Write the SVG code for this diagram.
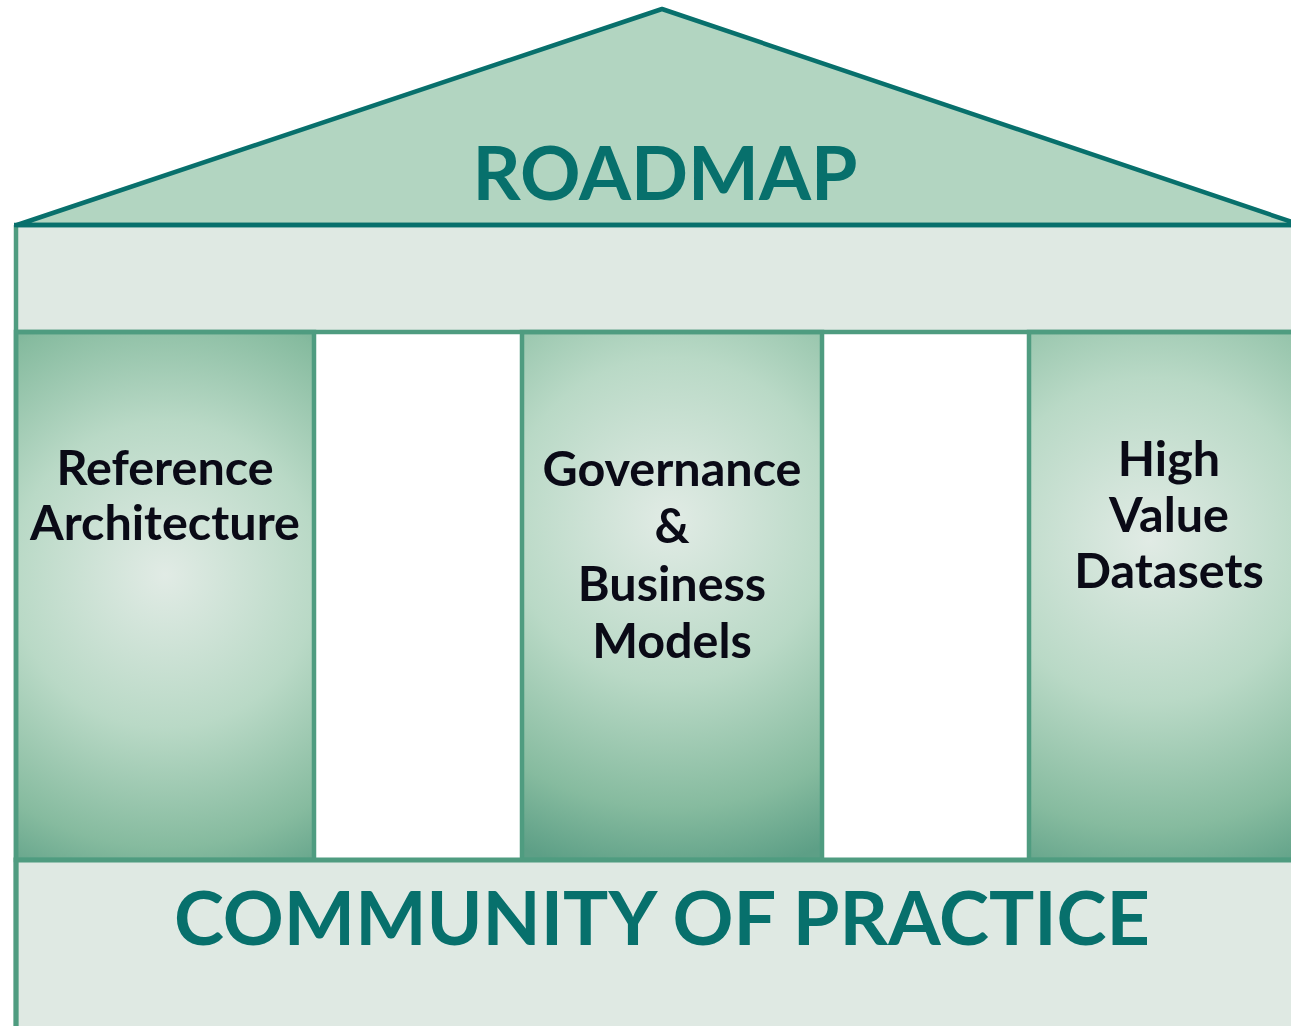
<svg xmlns="http://www.w3.org/2000/svg" width="1291" height="1026" viewBox="0 0 1291 1026">
<defs>
<radialGradient id="gL" gradientUnits="userSpaceOnUse" cx="165" cy="575" r="340">
<stop offset="0" stop-color="#e1ebe5"/><stop offset="0.45" stop-color="#b9d9c6"/><stop offset="0.8" stop-color="#86bb9f"/><stop offset="1" stop-color="#5d9f86"/>
</radialGradient>
<radialGradient id="gM" gradientUnits="userSpaceOnUse" cx="670" cy="520" r="360">
<stop offset="0" stop-color="#e1ebe5"/><stop offset="0.45" stop-color="#b9d9c6"/><stop offset="0.8" stop-color="#86bb9f"/><stop offset="1" stop-color="#5d9f86"/>
</radialGradient>
<radialGradient id="gR" gradientUnits="userSpaceOnUse" cx="1150" cy="540" r="360">
<stop offset="0" stop-color="#e1ebe5"/><stop offset="0.45" stop-color="#b9d9c6"/><stop offset="0.8" stop-color="#86bb9f"/><stop offset="1" stop-color="#5d9f86"/>
</radialGradient>
</defs>
<style>
.teal{fill:#07706c;font-family:Lato,"Liberation Sans",sans-serif;font-weight:700;text-anchor:middle}
.lbl{fill:#0a0a16;font-family:Lato,"Liberation Sans",sans-serif;font-weight:700;font-size:48.5px;text-anchor:middle}
.pillar{stroke:#4f9c80;stroke-width:4.5}
.band{fill:#dfe9e3}
</style>
<rect width="1291" height="1026" fill="#ffffff"/>
<g id="beam">
<rect class="band" x="16" y="225" width="1280" height="107"/>
</g>
<g id="pillar-reference">
<rect class="pillar" x="16" y="332" width="298" height="528" fill="url(#gL)"/>
<text class="lbl" x="165" y="485">Reference</text>
<text class="lbl" x="165" y="540">Architecture</text>
</g>
<g id="pillar-governance">
<rect class="pillar" x="522" y="332" width="300" height="528" fill="url(#gM)"/>
<text class="lbl" x="672" y="486">Governance</text>
<text class="lbl" x="672" y="543">&amp;</text>
<text class="lbl" x="672" y="601">Business</text>
<text class="lbl" x="672" y="658">Models</text>
</g>
<g id="pillar-datasets">
<rect class="pillar" x="1029" y="332" width="270" height="528" fill="url(#gR)"/>
<text class="lbl" x="1169" y="476">High</text>
<text class="lbl" x="1169" y="532">Value</text>
<text class="lbl" x="1169" y="588">Datasets</text>
</g>
<g id="community">
<rect class="band" x="16" y="860" width="1280" height="170" stroke="#4f9c80" stroke-width="5"/>
<text class="teal" x="662" y="945" font-size="75.5">COMMUNITY OF PRACTICE</text>
</g>
<g id="frame">
<line x1="16" y1="225" x2="16" y2="1030" stroke="#4f9c80" stroke-width="4.5"/>
<line x1="16" y1="332" x2="1296" y2="332" stroke="#4f9c80" stroke-width="4.5"/>
</g>
<g id="roadmap">
<polygon points="17,225 662,9 1292,222 1296,225" fill="#b2d5c1" stroke="#08706c" stroke-width="4.5" stroke-linejoin="round"/>
<line x1="14" y1="225" x2="1296" y2="225" stroke="#08706c" stroke-width="4.5"/>
<text class="teal" x="665" y="200" font-size="75">ROADMAP</text>
</g>
</svg>
